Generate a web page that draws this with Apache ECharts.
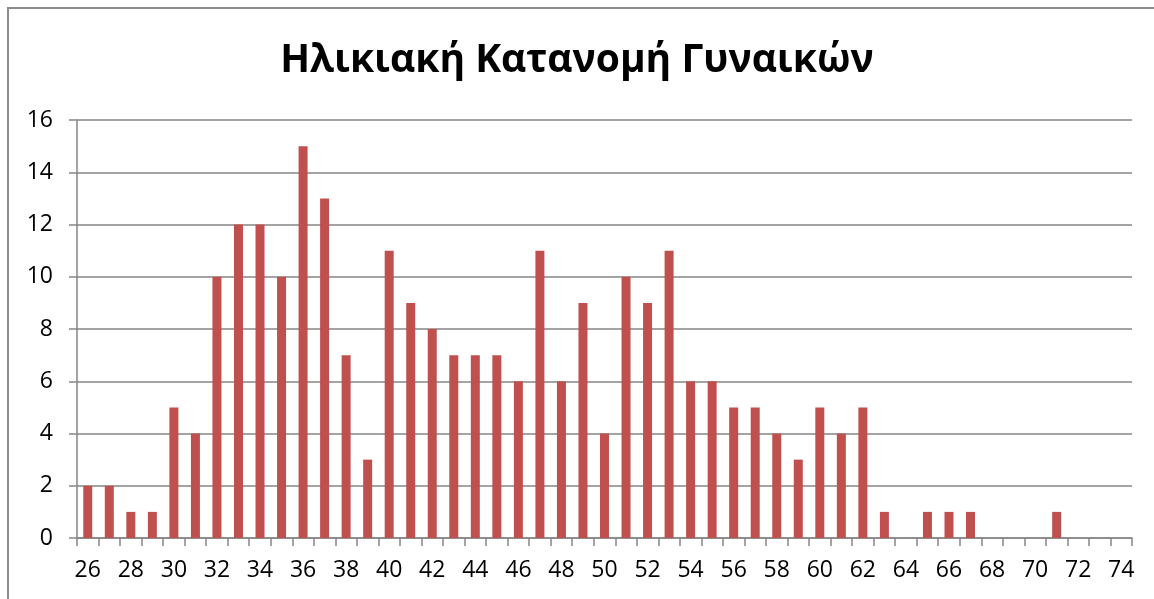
<!DOCTYPE html>
<html>
<head>
<meta charset="utf-8">
<script src="https://cdn.jsdelivr.net/npm/echarts@6/dist/echarts.min.js"></script>
<style>
html,body{margin:0;padding:0;background:#fff;}
#frame{position:absolute;left:7px;top:7px;width:1160px;height:610px;border:2px solid #8c8c8c;box-sizing:border-box;}
#chart{position:absolute;left:0;top:0;width:1154px;height:599px;}
</style>
</head>
<body>
<div id="frame"></div>
<div id="chart"></div>
<script>
const titleText = 'Ηλικιακή Κατανομή Γυναικών';
const ages = ['26','27','28','29','30','31','32','33','34','35','36','37','38','39','40','41','42','43','44','45','46','47','48','49','50','51','52','53','54','55','56','57','58','59','60','61','62','63','64','65','66','67','68','69','70','71','72','73','74'];
const counts = [2,2,1,1,5,4,10,12,12,10,15,13,7,3,11,9,8,7,7,7,6,11,6,9,4,10,9,11,6,6,5,5,4,3,5,4,5,1,0,1,1,1,0,0,0,1,0,0,0];
const yMin = 0, yMax = 16, yStep = 2;

const chart = echarts.init(document.getElementById('chart'), null, {renderer:'canvas'});
const font = '"Open Sans", "Noto Sans", sans-serif';
chart.setOption({
  animation:false,
  backgroundColor:'transparent',
  title:{
    text:titleText, left:'center', top:36, padding:[5,0,5,16],
    textStyle:{fontFamily:font, fontWeight:'bold', fontSize:39, color:'#000'}
  },
  grid:{left:77, right:22, top:120, bottom:61, containLabel:false},
  xAxis:{
    type:'category', data:ages, boundaryGap:true,
    axisLine:{lineStyle:{color:'#868686', width:1.5}},
    axisTick:{show:true, length:8, interval:0, lineStyle:{color:'#868686', width:1.5}},
    axisLabel:{interval:1, fontFamily:font, fontSize:23, color:'#000', margin:21},
    splitLine:{show:false}
  },
  yAxis:{
    type:'value', min:yMin, max:yMax, interval:yStep,
    axisLine:{show:true, lineStyle:{color:'#868686', width:1.5}},
    axisTick:{show:true, length:8, lineStyle:{color:'#868686', width:1.5}},
    axisLabel:{fontFamily:font, fontSize:23, color:'#000', margin:24},
    splitLine:{show:true, lineStyle:{color:'#868686', width:1.5}}
  },
  series:[{
    type:'bar', data:counts, barWidth:9,
    itemStyle:{color:'#C0504D'}
  }]
});
</script>
</body>
</html>
